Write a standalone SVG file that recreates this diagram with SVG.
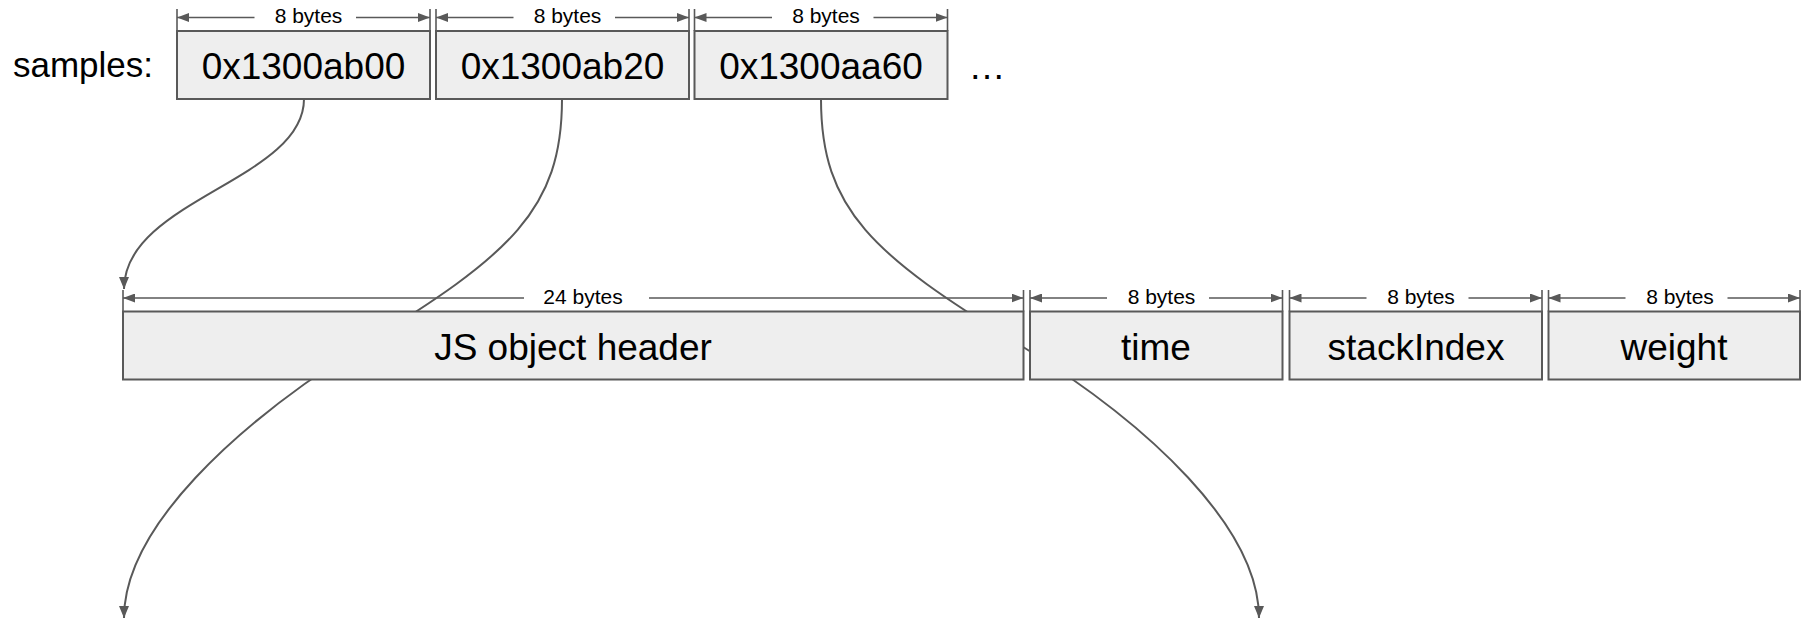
<svg xmlns="http://www.w3.org/2000/svg" width="1806" height="621" viewBox="0 0 1806 621">
<style>
.box{fill:#eeeeee;stroke:#595959;stroke-width:2}
.big{font-family:"Liberation Sans",Arial,sans-serif;font-size:37px;fill:#000;text-anchor:middle}
.lbl{font-family:"Liberation Sans",Arial,sans-serif;font-size:21px;fill:#000;text-anchor:middle}
.dim{stroke:#595959;stroke-width:1.6;fill:none}
.tick{stroke:#595959;stroke-width:1.6}
.conn{stroke:#595959;stroke-width:2;fill:none;marker-end:url(#arr)}
</style>
<defs>
<marker id="arr" markerUnits="userSpaceOnUse" markerWidth="12" markerHeight="10" refX="12" refY="5" orient="auto"><path d="M0,0 L12,5 L0,10 z" fill="#595959"/></marker>
<marker id="dimarr" markerUnits="userSpaceOnUse" markerWidth="12" markerHeight="9" refX="12" refY="4.5" orient="auto"><path d="M0,0 L12,4.5 L0,9 z" fill="#595959"/></marker>
</defs>
<rect width="1806" height="621" fill="#ffffff"/>
<g id="connectors">
<path class="conn" d="M 304 99 C 304 180 124 200 124 289"/>
<path class="conn" d="M 562 99 C 562 210 510 255 363 345 C 235 425 124 528 124 618"/>
<path class="conn" d="M 821 99 C 821 210 873 255 1020 345 C 1150 425 1259 528 1259 618"/>
</g>
<g id="dimensions">
<g class="tick">
<line x1="177" y1="9" x2="177" y2="31"/><line x1="430" y1="9" x2="430" y2="31"/>
<line x1="436" y1="9" x2="436" y2="31"/><line x1="689" y1="9" x2="689" y2="31"/>
<line x1="694.5" y1="9" x2="694.5" y2="31"/><line x1="947.5" y1="9" x2="947.5" y2="31"/>
<line x1="123" y1="290" x2="123" y2="311.5"/><line x1="1023.5" y1="290" x2="1023.5" y2="311.5"/>
<line x1="1030" y1="290" x2="1030" y2="311.5"/><line x1="1282.5" y1="290" x2="1282.5" y2="311.5"/>
<line x1="1289.5" y1="290" x2="1289.5" y2="311.5"/><line x1="1542" y1="290" x2="1542" y2="311.5"/>
<line x1="1548.5" y1="290" x2="1548.5" y2="311.5"/><line x1="1800" y1="290" x2="1800" y2="311.5"/>
</g>
<g class="dim" marker-end="url(#dimarr)">
<line x1="254.5" y1="17.5" x2="177" y2="17.5"/><line x1="356" y1="17.5" x2="430" y2="17.5"/>
<line x1="513.5" y1="17.5" x2="436" y2="17.5"/><line x1="615" y1="17.5" x2="689" y2="17.5"/>
<line x1="772" y1="17.5" x2="694.5" y2="17.5"/><line x1="873.5" y1="17.5" x2="947.5" y2="17.5"/>
<line x1="524" y1="298" x2="123" y2="298"/><line x1="649" y1="298" x2="1023.5" y2="298"/>
<line x1="1107" y1="298" x2="1030" y2="298"/><line x1="1209" y1="298" x2="1282.5" y2="298"/>
<line x1="1366.5" y1="298" x2="1289.5" y2="298"/><line x1="1468.5" y1="298" x2="1542" y2="298"/>
<line x1="1625.5" y1="298" x2="1548.5" y2="298"/><line x1="1727.5" y1="298" x2="1800" y2="298"/>
</g>
<text class="lbl" x="308.5" y="23">8 bytes</text>
<text class="lbl" x="567.5" y="23">8 bytes</text>
<text class="lbl" x="826" y="23">8 bytes</text>
<text class="lbl" x="583" y="303.5">24 bytes</text>
<text class="lbl" x="1161.5" y="303.5">8 bytes</text>
<text class="lbl" x="1421" y="303.5">8 bytes</text>
<text class="lbl" x="1680" y="303.5">8 bytes</text>
</g>
<text id="samples-label" x="13" y="77" font-family="'Liberation Sans',Arial,sans-serif" font-size="35" fill="#000">samples:</text>
<g id="sample0"><rect class="box" x="177" y="31" width="253" height="68"/><text class="big" x="303.5" y="79">0x1300ab00</text></g>
<g id="sample1"><rect class="box" x="436" y="31" width="253" height="68"/><text class="big" x="562.5" y="79">0x1300ab20</text></g>
<g id="sample2"><rect class="box" x="694.5" y="31" width="253" height="68"/><text class="big" x="821" y="79">0x1300aa60</text></g>
<text id="ellipsis" class="big" x="987" y="79">…</text>
<g id="header"><rect class="box" x="123" y="311.5" width="900.5" height="68"/><text class="big" x="573" y="359.5">JS object header</text></g>
<g id="time"><rect class="box" x="1030" y="311.5" width="252.5" height="68"/><text class="big" x="1156" y="359.5">time</text></g>
<g id="stackIndex"><rect class="box" x="1289.5" y="311.5" width="252.5" height="68"/><text class="big" x="1416" y="359.5">stackIndex</text></g>
<g id="weight"><rect class="box" x="1548.5" y="311.5" width="251.5" height="68"/><text class="big" x="1674" y="359.5">weight</text></g>
</svg>
